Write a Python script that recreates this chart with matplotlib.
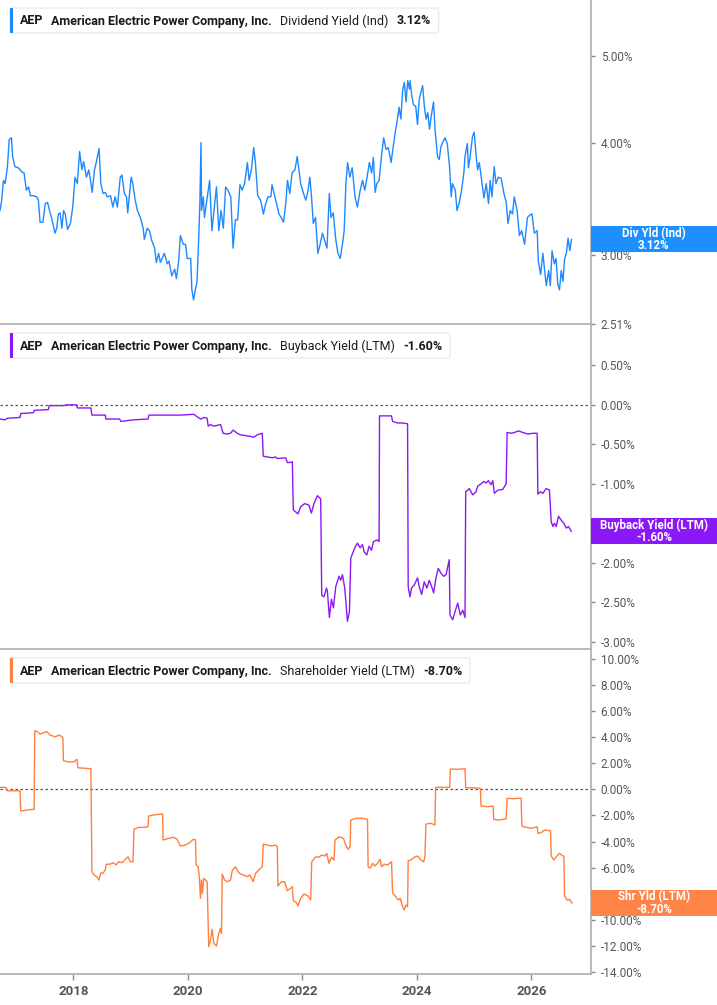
import matplotlib
matplotlib.use("Agg")
import matplotlib.pyplot as plt
from matplotlib.patches import FancyBboxPatch, Rectangle
from matplotlib.ticker import FixedLocator, NullLocator

plt.rcParams['font.family'] = ['Roboto', 'DejaVu Sans']

# ---------------- data (decimal year, percent) ----------------
div_t = [2016.72, 2016.75, 2016.78, 2016.81, 2016.85, 2016.88, 2016.92, 2016.94, 2016.98, 2017.04,
         2017.10, 2017.14, 2017.18, 2017.22, 2017.25, 2017.30, 2017.36, 2017.39, 2017.42, 2017.47,
         2017.51, 2017.55, 2017.60, 2017.62, 2017.68, 2017.71, 2017.74, 2017.77, 2017.80, 2017.83,
         2017.86, 2017.90, 2017.95, 2017.99, 2018.03, 2018.07, 2018.11, 2018.15, 2018.18, 2018.23,
         2018.27, 2018.30, 2018.33, 2018.37, 2018.40, 2018.45, 2018.48, 2018.52, 2018.56, 2018.59,
         2018.65, 2018.69, 2018.73, 2018.77, 2018.82, 2018.85, 2018.89, 2018.93, 2018.95, 2019.01,
         2019.04, 2019.08, 2019.12, 2019.17, 2019.22, 2019.24, 2019.29, 2019.33, 2019.37, 2019.42,
         2019.45, 2019.49, 2019.52, 2019.55, 2019.59, 2019.64, 2019.67, 2019.72, 2019.77, 2019.80,
         2019.84, 2019.87, 2019.92, 2019.96, 2019.99, 2020.02, 2020.05, 2020.07, 2020.10, 2020.13,
         2020.16, 2020.19, 2020.21, 2020.23, 2020.24, 2020.27, 2020.29, 2020.34, 2020.38, 2020.42,
         2020.47, 2020.50, 2020.54, 2020.58, 2020.62, 2020.66, 2020.70, 2020.75, 2020.79, 2020.83,
         2020.87, 2020.91, 2020.95, 2020.99, 2021.04, 2021.07, 2021.11, 2021.15, 2021.18, 2021.22,
         2021.27, 2021.32, 2021.36, 2021.40, 2021.45, 2021.47, 2021.52, 2021.55, 2021.59, 2021.63,
         2021.67, 2021.71, 2021.74, 2021.78, 2021.82, 2021.87, 2021.91, 2021.94, 2021.97, 2022.02,
         2022.06, 2022.10, 2022.13, 2022.16, 2022.19, 2022.23, 2022.27, 2022.31, 2022.35, 2022.39,
         2022.43, 2022.47, 2022.50, 2022.54, 2022.58, 2022.62, 2022.66, 2022.70, 2022.73, 2022.76,
         2022.79, 2022.83, 2022.87, 2022.92, 2022.96, 2023.01, 2023.05, 2023.09, 2023.13, 2023.17,
         2023.21, 2023.24, 2023.27, 2023.30, 2023.34, 2023.38, 2023.42, 2023.46, 2023.50, 2023.55,
         2023.57, 2023.62, 2023.65, 2023.69, 2023.72, 2023.75, 2023.78, 2023.81, 2023.84, 2023.87,
         2023.88, 2023.91, 2023.94, 2023.98, 2024.01, 2024.04, 2024.07, 2024.10, 2024.13, 2024.16,
         2024.19, 2024.22, 2024.25, 2024.29, 2024.32, 2024.36, 2024.39, 2024.42, 2024.45, 2024.49,
         2024.53, 2024.57, 2024.60, 2024.62, 2024.67, 2024.70, 2024.74, 2024.78, 2024.82, 2024.84,
         2024.88, 2024.90, 2024.93, 2024.97, 2025.00, 2025.03, 2025.06, 2025.09, 2025.13, 2025.17,
         2025.21, 2025.25, 2025.28, 2025.31, 2025.35, 2025.38, 2025.42, 2025.47, 2025.52, 2025.56,
         2025.59, 2025.63, 2025.67, 2025.70, 2025.75, 2025.79, 2025.83, 2025.88, 2025.93, 2025.97,
         2026.01, 2026.05, 2026.10, 2026.12, 2026.16, 2026.20, 2026.23, 2026.26, 2026.30, 2026.33,
         2026.36, 2026.40, 2026.43, 2026.46, 2026.49, 2026.52, 2026.55, 2026.58, 2026.61, 2026.64,
         2026.67, 2026.70]
div_yld = [3.36, 3.45, 3.63, 3.60, 3.76, 4.03, 4.05, 3.86, 3.76, 3.75,
           3.71, 3.70, 3.54, 3.57, 3.49, 3.49, 3.48, 3.45, 3.26, 3.26,
           3.42, 3.43, 3.33, 3.30, 3.17, 3.21, 3.33, 3.34, 3.21, 3.36,
           3.33, 3.20, 3.25, 3.39, 3.66, 3.60, 3.91, 3.73, 3.81, 3.66,
           3.73, 3.63, 3.52, 3.73, 3.80, 3.94, 3.60, 3.51, 3.52, 3.48,
           3.49, 3.39, 3.48, 3.39, 3.66, 3.68, 3.51, 3.48, 3.34, 3.66,
           3.60, 3.45, 3.36, 3.30, 3.21, 3.12, 3.21, 3.19, 3.11, 3.05,
           2.94, 3.01, 2.94, 2.97, 3.01, 2.93, 2.95, 2.84, 2.89, 2.82,
           2.95, 3.15, 3.08, 3.08, 2.97, 2.97, 2.97, 2.74, 2.67, 2.74,
           2.80, 3.13, 3.42, 4.00, 3.36, 3.48, 3.30, 3.48, 3.63, 3.19,
           3.42, 3.57, 3.19, 3.36, 3.21, 3.57, 3.54, 3.48, 3.05, 3.28,
           3.28, 3.59, 3.54, 3.60, 3.80, 3.63, 3.73, 3.95, 3.80, 3.49,
           3.45, 3.33, 3.42, 3.48, 3.48, 3.59, 3.48, 3.42, 3.33, 3.30,
           3.26, 3.42, 3.63, 3.51, 3.70, 3.73, 3.86, 3.73, 3.60, 3.51,
           3.45, 3.54, 3.66, 3.48, 3.25, 3.30, 3.01, 3.08, 3.17, 3.11,
           3.05, 3.51, 3.30, 3.34, 3.13, 3.01, 2.97, 3.08, 3.19, 3.60,
           3.80, 3.66, 3.75, 3.48, 3.39, 3.54, 3.63, 3.54, 3.66, 3.80,
           3.70, 3.85, 3.52, 3.60, 3.63, 3.86, 4.05, 3.93, 3.95, 3.80,
           3.89, 4.10, 4.21, 4.38, 4.25, 4.57, 4.67, 4.44, 4.69, 4.59,
           4.69, 4.51, 4.41, 4.39, 4.19, 4.47, 4.55, 4.63, 4.39, 4.25,
           4.32, 4.14, 4.28, 4.44, 4.11, 3.86, 3.83, 3.96, 4.00, 4.05,
           3.99, 3.76, 3.48, 3.60, 3.54, 3.36, 3.43, 3.54, 3.70, 3.86,
           3.99, 3.75, 3.86, 4.06, 4.11, 3.89, 3.73, 3.80, 3.63, 3.47,
           3.60, 3.42, 3.63, 3.48, 3.76, 3.60, 3.66, 3.65, 3.51, 3.43,
           3.25, 3.36, 3.33, 3.48, 3.36, 3.15, 3.19, 3.08, 3.30, 3.32,
           3.33, 3.17, 3.19, 2.95, 2.85, 3.01, 2.88, 2.77, 2.88, 2.77,
           3.03, 2.93, 2.97, 2.78, 2.74, 2.88, 2.80, 2.97, 3.01, 3.13,
           3.03, 3.12]

buy_t = [2016.720, 2016.808, 2016.848, 2017.070, 2017.082, 2017.303, 2017.320, 2017.565, 2017.578, 2017.828,
         2017.887, 2018.050, 2018.073, 2018.307, 2018.325, 2018.558, 2018.570, 2018.808, 2018.832, 2018.937,
         2019.053, 2019.305, 2019.322, 2019.637, 2019.870, 2020.103, 2020.162, 2020.220, 2020.290, 2020.337,
         2020.355, 2020.395, 2020.453, 2020.570, 2020.617, 2020.687, 2020.745, 2020.792, 2020.862, 2020.920,
         2021.008, 2021.095, 2021.153, 2021.212, 2021.300, 2021.317, 2021.387, 2021.475, 2021.533, 2021.562,
         2021.707, 2021.737, 2021.783, 2021.825, 2021.842, 2021.923, 2021.970, 2022.040, 2022.115, 2022.157,
         2022.203, 2022.262, 2022.320, 2022.338, 2022.378, 2022.420, 2022.437, 2022.472, 2022.507, 2022.542,
         2022.583, 2022.640, 2022.670, 2022.700, 2022.740, 2022.787, 2022.822, 2022.845, 2022.915, 2022.962,
         2023.008, 2023.050, 2023.078, 2023.125, 2023.165, 2023.207, 2023.242, 2023.312, 2023.340, 2023.347,
         2023.557, 2023.575, 2023.662, 2023.750, 2023.837, 2023.848, 2023.878, 2023.907, 2023.953, 2024.012,
         2024.040, 2024.082, 2024.128, 2024.175, 2024.215, 2024.257, 2024.292, 2024.333, 2024.373, 2024.420,
         2024.467, 2024.508, 2024.565, 2024.578, 2024.625, 2024.665, 2024.712, 2024.758, 2024.800, 2024.840,
         2024.852, 2024.887, 2024.915, 2024.975, 2025.033, 2025.062, 2025.120, 2025.167, 2025.208, 2025.248,
         2025.295, 2025.325, 2025.353, 2025.412, 2025.500, 2025.558, 2025.575, 2025.645, 2025.703, 2025.773,
         2025.850, 2025.937, 2026.025, 2026.100, 2026.112, 2026.158, 2026.200, 2026.258, 2026.315, 2026.345,
         2026.375, 2026.403, 2026.433, 2026.473, 2026.520, 2026.567, 2026.608, 2026.648, 2026.695]
buy_yld = [-0.18, -0.19, -0.17, -0.16, -0.11, -0.10, -0.07, -0.06, -0.01, -0.01,
           0.00, 0.00, -0.04, -0.04, -0.13, -0.13, -0.18, -0.18, -0.21, -0.20,
           -0.19, -0.18, -0.13, -0.13, -0.13, -0.12, -0.15, -0.18, -0.16, -0.17,
           -0.27, -0.25, -0.27, -0.25, -0.36, -0.37, -0.36, -0.32, -0.36, -0.38,
           -0.39, -0.40, -0.41, -0.38, -0.36, -0.65, -0.66, -0.67, -0.66, -0.68,
           -0.67, -0.73, -0.73, -0.72, -1.33, -1.38, -1.29, -1.25, -1.27, -1.37,
           -1.25, -1.15, -1.19, -2.41, -2.43, -2.32, -2.36, -2.69, -2.46, -2.57,
           -2.30, -2.17, -2.22, -2.15, -2.32, -2.74, -2.62, -1.94, -1.81, -1.75,
           -1.81, -1.77, -1.86, -1.90, -1.79, -1.84, -1.73, -1.71, -1.73, -0.14,
           -0.14, -0.21, -0.23, -0.23, -0.24, -2.30, -2.43, -2.32, -2.28, -2.19,
           -2.30, -2.40, -2.24, -2.32, -2.22, -2.30, -2.38, -2.19, -2.07, -2.13,
           -2.17, -2.15, -1.96, -2.66, -2.72, -2.62, -2.51, -2.66, -2.60, -2.69,
           -1.10, -1.08, -1.06, -1.14, -1.10, -1.03, -1.00, -0.97, -0.99, -0.96,
           -1.01, -0.96, -1.12, -1.08, -1.07, -1.00, -0.35, -0.36, -0.35, -0.33,
           -0.35, -0.37, -0.36, -0.36, -1.13, -1.10, -1.12, -1.06, -1.08, -1.48,
           -1.54, -1.50, -1.54, -1.41, -1.46, -1.50, -1.56, -1.54, -1.60]

shr_t = [2016.720, 2016.825, 2016.848, 2017.070, 2017.082, 2017.187, 2017.315, 2017.327, 2017.373, 2017.420,
         2017.478, 2017.537, 2017.595, 2017.683, 2017.758, 2017.817, 2017.828, 2017.915, 2018.015, 2018.062,
         2018.080, 2018.208, 2018.307, 2018.325, 2018.365, 2018.412, 2018.447, 2018.482, 2018.517, 2018.558,
         2018.575, 2018.645, 2018.703, 2018.750, 2018.790, 2018.850, 2018.908, 2018.955, 2018.995, 2019.042,
         2019.060, 2019.140, 2019.228, 2019.305, 2019.315, 2019.433, 2019.560, 2019.567, 2019.665, 2019.753,
         2019.812, 2019.870, 2019.958, 2020.033, 2020.092, 2020.133, 2020.145, 2020.180, 2020.203, 2020.220,
         2020.238, 2020.255, 2020.278, 2020.337, 2020.348, 2020.365, 2020.395, 2020.425, 2020.453, 2020.500,
         2020.540, 2020.570, 2020.588, 2020.600, 2020.640, 2020.687, 2020.745, 2020.775, 2020.833, 2020.873,
         2020.920, 2020.978, 2021.037, 2021.083, 2021.142, 2021.183, 2021.240, 2021.300, 2021.317, 2021.387,
         2021.457, 2021.533, 2021.562, 2021.573, 2021.632, 2021.690, 2021.737, 2021.795, 2021.825, 2021.842,
         2021.900, 2021.923, 2021.970, 2022.028, 2022.098, 2022.145, 2022.163, 2022.233, 2022.290, 2022.332,
         2022.390, 2022.425, 2022.465, 2022.507, 2022.553, 2022.570, 2022.640, 2022.717, 2022.758, 2022.798,
         2022.833, 2022.845, 2022.933, 2023.050, 2023.137, 2023.148, 2023.183, 2023.225, 2023.265, 2023.312,
         2023.358, 2023.382, 2023.428, 2023.487, 2023.557, 2023.575, 2023.633, 2023.673, 2023.708, 2023.750,
         2023.778, 2023.808, 2023.837, 2023.848, 2023.895, 2023.953, 2024.012, 2024.070, 2024.117, 2024.140,
         2024.158, 2024.245, 2024.315, 2024.327, 2024.572, 2024.583, 2024.712, 2024.840, 2024.852, 2024.975,
         2025.108, 2025.120, 2025.237, 2025.330, 2025.342, 2025.440, 2025.558, 2025.575, 2025.675, 2025.820,
         2025.832, 2025.908, 2025.995, 2026.100, 2026.112, 2026.170, 2026.228, 2026.333, 2026.345, 2026.392,
         2026.433, 2026.490, 2026.550, 2026.567, 2026.578, 2026.625, 2026.665, 2026.707]
shr_yld = [0.15, 0.15, -0.11, -0.11, -1.66, -1.58, -1.53, 4.48, 4.41, 4.23,
           4.33, 4.41, 4.15, 4.02, 4.15, 3.98, 2.19, 2.09, 2.11, 2.30,
           1.65, 1.61, 1.58, -6.30, -6.56, -6.69, -6.94, -6.38, -6.43, -6.17,
           -5.74, -5.72, -5.62, -5.79, -5.54, -5.62, -5.36, -5.16, -5.54, -5.54,
           -3.06, -2.91, -2.91, -2.86, -2.04, -1.94, -1.89, -3.88, -3.75, -3.67,
           -3.83, -4.34, -4.26, -4.09, -3.83, -3.85, -5.79, -5.92, -6.81, -8.34,
           -6.94, -7.96, -6.81, -7.07, -8.98, -12.04, -11.53, -10.71, -11.78, -11.99,
           -11.02, -10.64, -11.02, -6.48, -6.94, -7.07, -6.94, -6.23, -5.92, -6.30,
           -6.48, -6.56, -6.69, -6.56, -7.07, -6.43, -6.17, -5.92, -4.19, -4.26,
           -4.34, -4.26, -4.39, -7.40, -7.07, -7.07, -7.76, -7.57, -7.45, -8.52,
           -8.68, -8.93, -8.34, -8.01, -8.16, -8.47, -5.54, -5.16, -5.20, -5.03,
           -5.10, -4.90, -5.66, -5.20, -5.41, -3.88, -3.63, -3.75, -4.26, -4.59,
           -4.39, -2.35, -2.22, -2.22, -2.30, -5.92, -6.04, -5.66, -5.87, -5.66,
           -5.36, -5.92, -5.72, -5.79, -5.54, -7.91, -8.22, -8.47, -8.34, -8.98,
           -9.23, -8.85, -8.98, -5.46, -5.41, -5.20, -5.10, -5.41, -5.54, -5.16,
           -2.65, -2.60, -2.73, 0.15, 0.15, 1.55, 1.53, 1.58, 0.12, 0.12,
           0.08, -1.28, -1.33, -1.28, -2.30, -2.35, -2.25, -0.69, -0.72, -0.67,
           -2.81, -2.91, -2.98, -2.86, -3.37, -3.32, -3.11, -3.17, -5.10, -5.41,
           -5.16, -4.90, -5.10, -5.12, -8.16, -8.47, -8.42, -8.70]

year_ticks = [2018, 2020, 2022, 2024, 2026]

panels = [
    dict(t=div_t, v=div_yld, color='#1e88ff', box='#1e8fff',
         metric='Dividend Yield (Ind)', last='3.12%', tag='Div Yld (Ind)',
         log=True, ylim=(2.51, 5.77), ticks=[2.51, 3.0, 4.0, 5.0], zero=False),
    dict(t=buy_t, v=buy_yld, color='#8a19f5', box='#8b18f7',
         metric='Buyback Yield (LTM)', last='-1.60%', tag='Buyback Yield (LTM)',
         log=False, ylim=(-3.09, 1.01), ticks=[0.5, 0.0, -0.5, -1.0, -2.0, -2.5, -3.0], zero=True),
    dict(t=shr_t, v=shr_yld, color='#ff7f3f', box='#ff8448',
         metric='Shareholder Yield (LTM)', last='-8.70%', tag='Shr Yld (LTM)',
         log=False, ylim=(-14.13, 10.66), ticks=list(range(10, -15, -2)), zero=True),
]

W, H = 717, 1005
fig = plt.figure(figsize=(W / 100, H / 100), dpi=100)
renderer = fig.canvas.get_renderer()

tops = [0, 325, 650]
ph = 324
axis_col = '#b4b4b4'
txt_col = '#555555'

for i, p in enumerate(panels):
    top = tops[i]
    ax = fig.add_axes([0, 1 - (top + ph) / H, 591 / W, ph / H])
    ax.plot(p['t'], p['v'], color=p['color'], lw=1.0, zorder=3)
    if p['log']:
        ax.set_yscale('log')
    ax.set_ylim(*p['ylim'])
    ax.set_xlim(2016.72, 2027.04)
    ax.yaxis.set_major_locator(FixedLocator(p['ticks']))
    ax.yaxis.set_minor_locator(NullLocator())
    ax.set_yticklabels([f'{v:.2f}%' for v in p['ticks']])
    ax.yaxis.tick_right()
    ax.tick_params(axis='y', length=3, width=1, color='#888888', pad=4,
                   labelsize=8.5, labelcolor=txt_col)
    if p['zero']:
        ax.axhline(0, color='#555555', lw=0.9, ls=(0, (2, 2)), zorder=2)

    for s in ['left', 'top']:
        ax.spines[s].set_visible(False)
    for s in ['right', 'bottom']:
        ax.spines[s].set_color(axis_col)
        ax.spines[s].set_linewidth(1.3)

    if i < 2:
        ax.set_xticks([])
    else:
        ax.set_xticks(year_ticks)
        ax.set_xticklabels([str(y) for y in year_ticks], fontweight='bold')
        ax.tick_params(axis='x', length=4, width=1, color='#888888', pad=4,
                       labelsize=9.5, labelcolor=txt_col)

    # last value box on the right axis
    yc = ax.transData.transform((2026.7, p['v'][-1]))[1]
    bh = 26
    fig.patches.append(Rectangle((591 / W, (yc - bh / 2) / H), 1 - 591 / W, bh / H,
                                 transform=fig.transFigure, facecolor=p['box'],
                                 edgecolor='none', zorder=10))
    fig.text((591 + 63) / W, yc / H, f"{p['tag']}\n{p['last']}", color='white',
             fontsize=8.3, fontweight='bold', ha='center', va='center',
             linespacing=0.95, zorder=11)

    # header legend box
    base_y = 1 - (top + 21) / H
    x = 20
    pieces = [('AEP', 'bold'), ('American Electric Power Company, Inc.', 'bold'),
              (p['metric'], 'normal'), (p['last'], 'bold')]
    for j, (s, wgt) in enumerate(pieces):
        tx = fig.text(x / W, base_y, s, fontsize=9.0, fontweight=wgt, color='#1a1a1a',
                      ha='left', va='center', zorder=12)
        x += tx.get_window_extent(renderer=renderer).width + 8
    x_end = x
    fig.patches.append(FancyBboxPatch((10 / W, 1 - (top + 33) / H), (x_end - 10) / W, 25 / H,
                                      boxstyle='round,pad=0,rounding_size=0.003',
                                      transform=fig.transFigure, facecolor='white',
                                      edgecolor='#e6e6e6', lw=0.8, zorder=9))
    fig.patches.append(Rectangle((10 / W, 1 - (top + 33) / H), 3 / W, 25 / H,
                                 transform=fig.transFigure, facecolor=p['color'],
                                 edgecolor='none', zorder=10))

fig.savefig('out.png', dpi=100)
